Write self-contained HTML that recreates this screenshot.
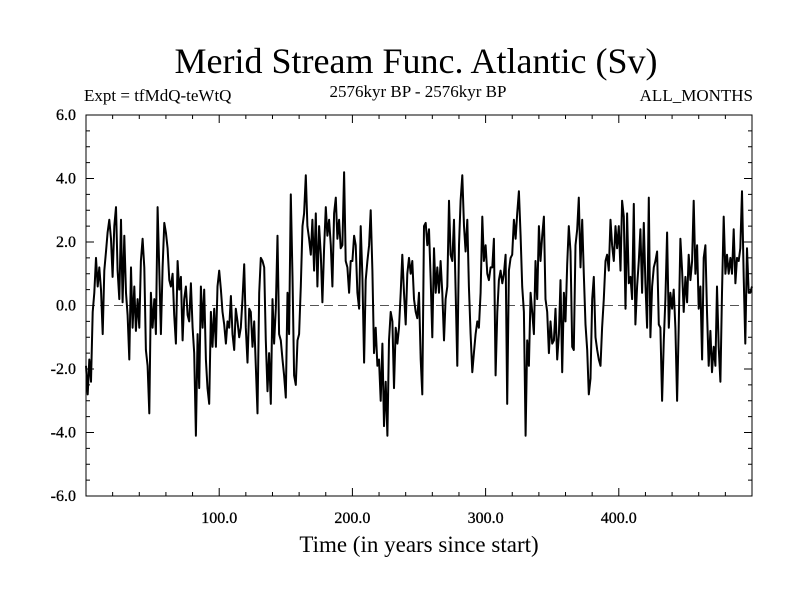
<!DOCTYPE html>
<html><head><meta charset="utf-8"><style>
html,body{margin:0;padding:0;background:#fff;width:800px;height:600px;overflow:hidden}
svg text{font-family:"Liberation Serif",serif;fill:#000}
</style></head><body>
<svg id="chart" width="800" height="600" xmlns="http://www.w3.org/2000/svg">
<text x="416" y="73" font-size="36" text-anchor="middle">Merid Stream Func. Atlantic (Sv)</text>
<text x="84" y="101" font-size="17">Expt = tfMdQ-teWtQ</text>
<text x="418" y="97" font-size="17" text-anchor="middle">2576kyr BP - 2576kyr BP</text>
<text x="753" y="101" font-size="17" text-anchor="end">ALL_MONTHS</text>
<text x="419" y="552" font-size="23" text-anchor="middle">Time (in years since start)</text>
<g id="axes"></g>
<g id="series"></g>
<rect x="86" y="115" width="666" height="381" fill="none" stroke="#000" stroke-width="1"/>
</svg>
<script>
const xStart = 0;
const xStep = 1.25;
const yTickLabels = ["-6.0","-4.0","-2.0","0.0","2.0","4.0","6.0"];
const yTickValues = [-6,-4,-2,0,2,4,6];
const xTickValues = [100,200,300,400];
const xTickLabels = ["100.0","200.0","300.0","400.0"];
const streamValues = [
-1.9,-2.8,-1.7,-2.4,-0.2,0.4,1.5,0.6,1.2,0.5,-0.9,1.1,1.7,2.3,2.7,2.1,0.9,2.5,3.1,1.1,0.2,2.7,0.1,2.2,0.4,-0.3,-1.7,1.2,-0.7,0.6,-0.8,0.2,-0.7,1.4,2.1,1.2,-1.4,-1.9,-3.4,0.4,-0.7,0.2,-0.9,3.1,1.1,-0.9,1.2,2.6,2.3,1.8,0.8,0.6,1.0,-0.3,-1.2,1.4,0.5,0.9,-1.1,0.2,0.6,-0.3,-0.5,0.7,-0.7,-1.5,-4.1,-0.9,-2.6,0.6,-0.7,0.5,-1.7,-2.6,-3.1,-0.2,-1.3,-0.1,-1.3,0.6,
1.1,0.5,-0.2,-0.6,-1.2,-0.5,-0.7,0.3,-0.9,-1.4,-0.1,-0.5,-1.0,-0.7,0.2,1.3,-0.7,-1.8,-0.1,-0.2,-1.3,-0.5,-1.9,-3.4,0.4,1.5,1.4,1.2,-1.1,-2.7,-1.5,-3.1,0.2,-1.2,-0.1,2.2,-0.9,-1.1,-1.7,-2.2,-2.9,0.4,-0.9,3.5,0.9,-2.2,-2.5,-1.1,-0.9,0.6,2.5,2.9,4.1,2.5,2.1,1.6,2.7,1.1,2.9,0.6,2.5,1.6,0.1,1.8,3.1,2.2,2.7,1.9,0.6,2.9,3.4,2.1,2.7,1.8,1.9,4.2,1.4,1.2,0.4,1.4,
1.4,2.2,1.9,0.4,-0.1,2.5,0.9,-1.8,0.8,1.4,1.9,3.0,1.1,-1.5,-0.7,-1.9,-1.7,-3.0,-1.2,-3.8,-2.4,-4.1,-1.1,-0.2,-0.5,-2.6,-0.7,-1.2,-0.7,0.4,1.6,0.4,-0.6,1.0,1.5,1.0,1.4,0.2,-0.2,-0.4,0.4,-1.7,-2.8,2.5,2.6,1.9,2.4,0.8,-1.0,1.8,0.4,1.2,0.4,1.4,0.4,-1.1,0.2,0.6,3.3,1.6,1.4,2.7,0.5,-1.9,1.9,3.3,4.1,2.5,1.7,2.7,0.6,-0.9,-2.1,-1.5,-0.9,-0.5,-0.7,0.4,2.8,1.4,
1.9,1.0,0.8,1.2,1.2,2.1,-2.2,-0.2,0.8,1.1,0.7,1.0,1.6,-3.1,1.1,1.5,1.6,2.7,2.1,2.9,3.6,2.2,0.6,-0.2,-4.1,-1.1,-1.9,0.4,-0.2,-0.9,1.4,0.2,2.5,1.4,2.2,2.8,0.2,-0.2,-1.5,-0.5,-1.2,-1.1,-0.1,-1.7,-0.9,0.8,-2.1,0.4,-0.5,1.3,2.5,1.7,-1.3,-1.4,1.9,2.4,3.4,1.2,2.7,1.0,-0.6,-1.4,-2.8,-2.3,0.2,0.9,-1.0,-1.4,-1.7,-1.9,-0.7,0.2,1.4,1.6,1.1,2.7,1.9,1.4,2.5,1.8,
2.5,1.1,3.3,2.8,-0.1,2.9,0.7,0.9,0.2,3.2,-0.6,0.6,1.4,2.4,0.4,2.6,0.7,-0.7,3.4,-1.0,0.6,1.2,1.4,1.7,-0.6,-0.7,-3.0,-1.1,0.2,2.3,-0.7,0.4,-0.1,0.5,-0.7,-3.0,-0.7,2.1,1.1,-0.2,0.9,0.1,1.6,0.8,1.4,3.3,1.0,1.9,-0.1,0.6,-1.7,1.5,1.9,-0.2,-1.9,-0.8,-2.1,-1.3,-1.9,0.6,-1.3,-2.4,0.4,2.8,1.0,1.6,1.0,1.5,1.0,2.4,0.7,1.5,1.4,1.8,3.6,0.9,-1.2,1.8,0.4,0.4,0.6
];
const NS='http://www.w3.org/2000/svg';
const X0=86,X1=752,Y0=496,Y1=115;
function xScale(v){return X0+(v-0)/(500-0)*(X1-X0);}
function yScale(v){return Y0-(v+6)/12*(Y0-Y1);}
const axes=document.getElementById('axes');
function mk(tag,attrs,parent){const e=document.createElementNS(NS,tag);for(const k in attrs)e.setAttribute(k,attrs[k]);parent.appendChild(e);return e;}
for(let v=-6;v<=6.001;v+=0.5){
  const y=yScale(v);const major=Math.abs(v/2-Math.round(v/2))<1e-6;const len=major?8:4;
  const t1=mk('line',{x1:X0,x2:X0+len,y1:y,y2:y,stroke:'#000','stroke-width':1},axes);
  
  
  const t2=mk('line',{x1:X1,x2:X1-len,y1:y,y2:y,stroke:'#000','stroke-width':1},axes);
  
  
}
yTickValues.forEach((v,i)=>{
  const t=mk('text',{x:76,y:yScale(v)+5,'font-size':16,'text-anchor':'end','stroke':'#000','stroke-width':0.3},axes);
  t.textContent=yTickLabels[i];
  
  
});
for(let v=20;v<500;v+=20){
  const x=xScale(v);const major=v%100===0;const len=major?8:4;
  const t1=mk('line',{x1:x,x2:x,y1:Y0,y2:Y0-len,stroke:'#000','stroke-width':1},axes);
  
  
  const t2=mk('line',{x1:x,x2:x,y1:Y1,y2:Y1+len,stroke:'#000','stroke-width':1},axes);
  
  
}
xTickValues.forEach((v,i)=>{
  const t=mk('text',{x:xScale(v),y:523,'font-size':16,'text-anchor':'middle','stroke':'#000','stroke-width':0.3},axes);
  t.textContent=xTickLabels[i];
  
  
});
const zl=mk('line',{x1:X0,x2:X1,y1:yScale(0),y2:yScale(0),stroke:'#555','stroke-width':1,'stroke-dasharray':'9,5'},axes);


const series=document.getElementById('series');
let d='';
streamValues.forEach((v,i)=>{const x=xScale(xStart+i*xStep);const y=yScale(v);d+=(i?'L':'M')+x.toFixed(1)+','+y.toFixed(1);});
const p=mk('path',{d:d,fill:'none',stroke:'#000','stroke-width':2,'stroke-linejoin':'round'},series);


</script>
</body></html>
